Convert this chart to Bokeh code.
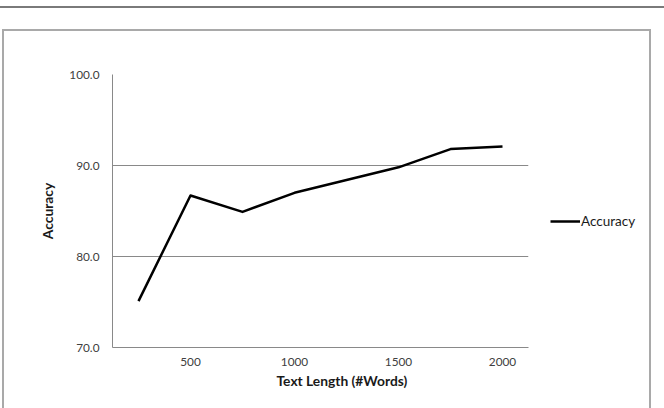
from bokeh.plotting import figure
from bokeh.layouts import row
from bokeh.models import (Legend, LegendItem, FixedTicker, Range1d,
                          PrintfTickFormatter, Title)
from bokeh.embed import file_html
from bokeh.resources import INLINE

# data
words = [250, 500, 750, 1000, 1250, 1500, 1750, 2000]
accuracy = [75.1, 86.7, 84.9, 87.0, 88.4, 89.8, 91.8, 92.1]
x_ticks = [500, 1000, 1500, 2000]
y_ticks = [70, 80, 90, 100]
series_name = "Accuracy"
x_title = "Text Length (#Words)"
y_title = "Accuracy"

FONT = "Lato"

# page decorations (top rule + outer chart frame) drawn as CSS background
deco_styles = {
    "background-color": "white",
    "background-image": ("linear-gradient(#7a7a7a,#7a7a7a), linear-gradient(#a9a9a9,#a9a9a9), "
                         "linear-gradient(#a9a9a9,#a9a9a9), linear-gradient(#a9a9a9,#a9a9a9)"),
    "background-position": "0px 6px, 2px 29px, 2px 29px, 649px 29px",
    "background-size": "664px 2px, 649px 2px, 2px 400px, 2px 400px",
    "background-repeat": "no-repeat",
}

p = figure(width=540, height=408, output_backend="svg", toolbar_location=None,
           x_range=Range1d(125, 2125), y_range=Range1d(70, 100),
           min_border_left=112, min_border_right=12, min_border_top=74,
           min_border_bottom=61, background_fill_color="white",
           border_fill_alpha=0, outline_line_color=None)

r = p.line(words, accuracy, line_color="black", line_width=2.5, line_join="round")

# axes
for ax in (p.xaxis[0], p.yaxis[0]):
    ax.axis_line_color = "#898989"
    ax.axis_line_width = 1
    ax.major_tick_line_color = None
    ax.minor_tick_line_color = None
    ax.major_tick_out = 0
    ax.major_tick_in = 0
    ax.major_label_text_font = FONT
    ax.major_label_text_font_size = "11.8px"
    ax.major_label_text_color = "#404040"

p.xaxis.ticker = FixedTicker(ticks=x_ticks)
p.yaxis.ticker = FixedTicker(ticks=y_ticks)
p.yaxis.formatter = PrintfTickFormatter(format="%.1f")
p.xaxis.major_label_standoff = 10
p.yaxis.major_label_standoff = 13

p.yaxis.axis_label = y_title
p.yaxis.axis_label_text_font = FONT
p.yaxis.axis_label_text_font_style = "bold"
p.yaxis.axis_label_text_font_size = "13.8px"
p.yaxis.axis_label_text_color = "#1a1a1a"
p.yaxis.axis_label_standoff = 10

p.add_layout(Title(text=x_title, align="left", offset=164, text_font=FONT,
                   text_font_style="bold", text_font_size="13.8px",
                   text_color="#1a1a1a", standoff=3), "below")

p.xgrid.grid_line_color = None
p.ygrid.grid_line_color = "#898989"
p.ygrid.grid_line_width = 1

# legend panel (separate transparent figure to the right of the plot area)
pl = figure(width=124, height=408, output_backend="svg", toolbar_location=None,
            x_range=Range1d(0, 1), y_range=Range1d(0, 1),
            x_axis_type=None, y_axis_type=None, min_border=0,
            background_fill_alpha=0, border_fill_alpha=0, outline_line_color=None)
pl.xgrid.visible = False
pl.ygrid.visible = False
rl = pl.line(words, accuracy, line_color="black", line_width=2.5)

legend = Legend(items=[LegendItem(label=series_name, renderers=[rl])],
                location=(10, 118), glyph_width=30, glyph_height=14,
                label_height=14, label_standoff=1, padding=0, margin=0,
                border_line_color=None, background_fill_alpha=0,
                label_text_font=FONT, label_text_font_size="13.5px",
                label_text_color="#1a1a1a")
pl.add_layout(legend, "center")

layout = row(p, pl, spacing=0, styles=deco_styles)

open("out.html", "w").write(file_html(layout, INLINE))
